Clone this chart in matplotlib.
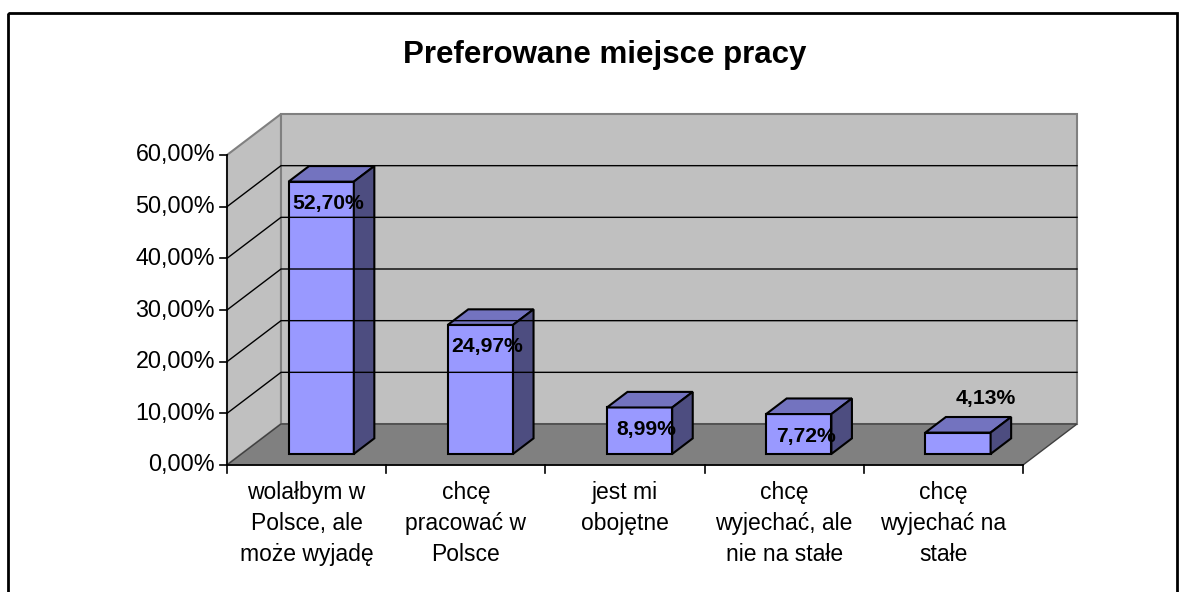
import matplotlib
matplotlib.use("Agg")
import matplotlib.pyplot as plt
from matplotlib.patches import Polygon, Rectangle

plt.rcParams['font.family'] = ['Liberation Sans', 'DejaVu Sans']

# dane
categories = ["wolałbym w\nPolsce, ale\nmoże wyjadę",
              "chcę\npracować w\nPolsce",
              "jest mi\nobojętne",
              "chcę\nwyjechać, ale\nnie na stałe",
              "chcę\nwyjechać na\nstałe"]
values = [52.70, 24.97, 8.99, 7.72, 4.13]
labels = ["52,70%", "24,97%", "8,99%", "7,72%", "4,13%"]
y_ticks = [0, 10, 20, 30, 40, 50, 60]
y_tick_labels = ["0,00%", "10,00%", "20,00%", "30,00%", "40,00%", "50,00%", "60,00%"]
title = "Preferowane miejsce pracy"

# geometria rzutu (piksele)
X0, Y0 = 227, 465        # poczatek osi z przodu
CW = (1023 - 227) / 5    # szerokosc kategorii
VS = 310 / 60            # pikseli na 1%
DX, DY = 54, 41          # przesuniecie glebi
BAR_W = 0.41
D0, D1 = 0.27, 0.65      # glebokosc slupka
VMAX = 60


def proj(c, v, d):
    return (X0 + c * CW + d * DX, Y0 - v * VS - d * DY)


fig = plt.figure(figsize=(11.85, 5.92), dpi=100)
ax = fig.add_axes([0, 0, 1, 1])
ax.set_xlim(0, 1185)
ax.set_ylim(592, 0)
ax.axis('off')

# ramka
ax.add_patch(Rectangle((8, 13), 1169, 600, fill=False, edgecolor='black', lw=2))

n = len(categories)
# sciana boczna
side = [proj(0, 0, 0), proj(0, VMAX, 0), proj(0, VMAX, 1), proj(0, 0, 1)]
ax.add_patch(Polygon(side, closed=True, facecolor='#C0C0C0', edgecolor='#808080', lw=1.5))
# sciana tylna
back = [proj(0, 0, 1), proj(0, VMAX, 1), proj(n, VMAX, 1), proj(n, 0, 1)]
ax.add_patch(Polygon(back, closed=True, facecolor='#C0C0C0', edgecolor='#808080', lw=1.5))
# podloga
floor = [proj(0, 0, 0), proj(n, 0, 0), proj(n, 0, 1), proj(0, 0, 1)]
ax.add_patch(Polygon(floor, closed=True, facecolor='#808080', edgecolor='#404040', lw=1))

# linie siatki
for v in y_ticks[1:-1]:
    a, b, c = proj(0, v, 0), proj(0, v, 1), proj(n, v, 1)
    ax.plot([a[0], b[0], c[0]], [a[1], b[1], c[1]], color='black', lw=1)

# os Y
a, b = proj(0, 0, 0), proj(0, VMAX, 0)
ax.plot([a[0], b[0]], [a[1], b[1]], color='black', lw=1.2)
for v, t in zip(y_ticks, y_tick_labels):
    x, y = proj(0, v, 0)
    ax.plot([x - 7, x], [y, y], color='black', lw=1.2)
    ax.text(x - 12, y, t, ha='right', va='center', fontsize=16.8)

# os X
a, b = proj(0, 0, 0), proj(n, 0, 0)
ax.plot([a[0], b[0]], [a[1], b[1]], color='black', lw=1.2)
for i in range(n + 1):
    x, y = proj(i, 0, 0)
    ax.plot([x, x], [y, y + 8], color='black', lw=1.2)
for i, cat in enumerate(categories):
    x, y = proj(i + 0.5, 0, 0)
    ax.text(x, y + 16, cat, ha='center', va='top', fontsize=16.5, linespacing=1.45)

# slupki
for i, (v, lab) in enumerate(zip(values, labels)):
    l, r = i + 0.5 - BAR_W / 2, i + 0.5 + BAR_W / 2
    front = [proj(l, 0, D0), proj(r, 0, D0), proj(r, v, D0), proj(l, v, D0)]
    top = [proj(l, v, D0), proj(r, v, D0), proj(r, v, D1), proj(l, v, D1)]
    rside = [proj(r, 0, D0), proj(r, 0, D1), proj(r, v, D1), proj(r, v, D0)]
    ax.add_patch(Polygon(front, closed=True, facecolor='#9999FF', edgecolor='black', lw=1.5))
    ax.add_patch(Polygon(top, closed=True, facecolor='#7373BF', edgecolor='black', lw=1.5))
    ax.add_patch(Polygon(rside, closed=True, facecolor='#4D4D80', edgecolor='black', lw=1.5))
    cx, ty = proj(i + 0.5, v, D0)
    if v > 5:
        ax.text(cx + 7, ty + 22, lab, ha='center', va='center', fontsize=15.2, fontweight='bold')
    else:
        tx, tty = proj(i + 0.5, v, D1)
        ax.text(cx + 28, tty - 19, lab, ha='center', va='center', fontsize=15.2, fontweight='bold')

ax.text(605, 55, title, ha='center', va='center', fontsize=22.5, fontweight='bold')

fig.savefig("out.png", dpi=100)
